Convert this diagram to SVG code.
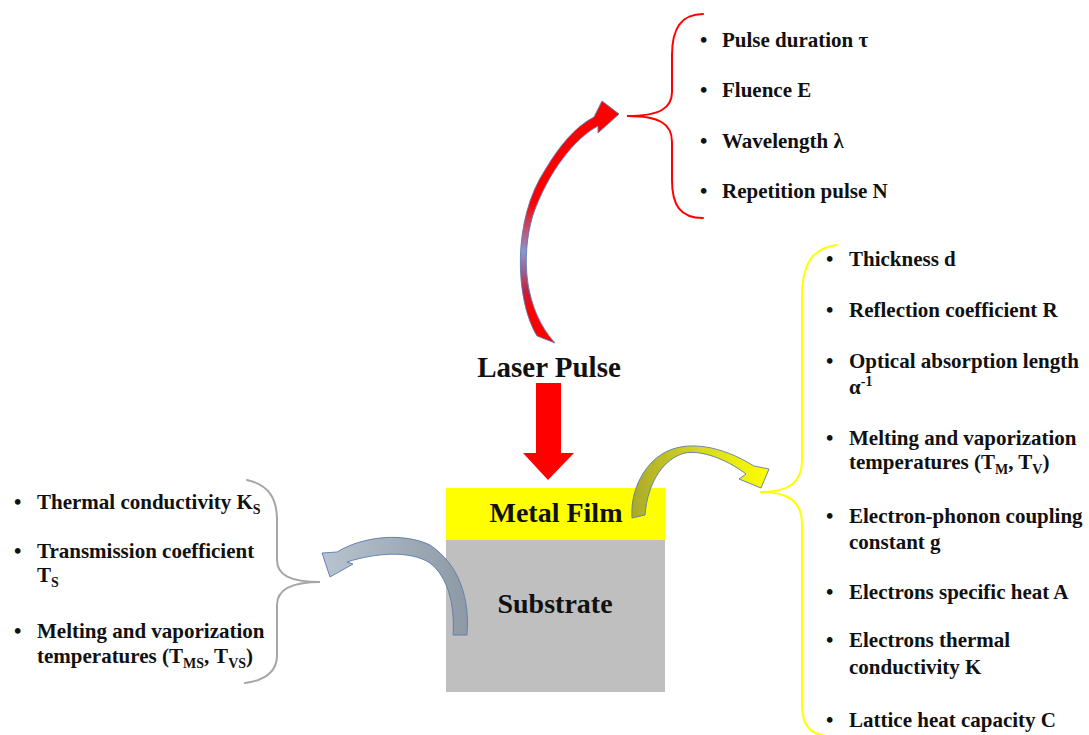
<svg xmlns="http://www.w3.org/2000/svg" width="1089" height="735" viewBox="0 0 1089 735">
<defs>
<style>
.t{font-family:"Liberation Serif","Times New Roman",serif;font-weight:bold;font-size:21px;fill:#111}
.big{font-family:"Liberation Serif","Times New Roman",serif;font-weight:bold;font-size:28px;fill:#111;text-anchor:middle}
.sub{font-size:14px}
.brace{fill:none;stroke-width:2;stroke-linecap:round}
.curv{stroke:#5a7cb0;stroke-width:0.9;stroke-linejoin:round}
</style>
<linearGradient id="gRed" gradientUnits="userSpaceOnUse" x1="0" y1="100" x2="0" y2="345">
<stop offset="0" stop-color="#ff0000"/>
<stop offset="0.42" stop-color="#ff0000"/>
<stop offset="0.62" stop-color="#8a96d0"/>
<stop offset="0.78" stop-color="#c02040"/>
<stop offset="0.86" stop-color="#ff0000"/>
<stop offset="1" stop-color="#ff0000"/>
</linearGradient>
<linearGradient id="gYel" gradientUnits="userSpaceOnUse" x1="630" y1="0" x2="770" y2="0">
<stop offset="0" stop-color="#a8a82a"/>
<stop offset="0.5" stop-color="#d8d820"/>
<stop offset="1" stop-color="#ffff00"/>
</linearGradient>
<linearGradient id="gGray" gradientUnits="userSpaceOnUse" x1="470" y1="0" x2="320" y2="0">
<stop offset="0" stop-color="#8c98a4"/>
<stop offset="1" stop-color="#b8c4d0"/>
</linearGradient>
</defs>
<rect width="1089" height="735" fill="#ffffff"/>

<g id="metal-film">
<rect x="446" y="488" width="219" height="52" fill="#ffff00"/>
<text class="big" x="556" y="522">Metal Film</text>
</g>
<g id="substrate">
<rect x="446" y="540" width="219" height="152" fill="#bfbfbf"/>
<text class="big" x="555" y="613">Substrate</text>
</g>
<g id="laser-pulse">
<text class="big" x="549" y="377" style="font-size:29px">Laser Pulse</text>
</g>

<g id="connectors">
<polygon points="536,383 561,383 561,453 574,453 548,480 523,453 536,453" fill="#ff0000"/>
<path class="curv" fill="url(#gRed)" d="M 537 336 C 515 300, 512 220, 545 170 C 560 145, 575 127, 594 117 L 602 101 L 619 114 L 598 133 L 598 126 C 575 138, 548 172, 533 215 C 520 258, 525 310, 555 343 Z"/>
<path class="curv" fill="url(#gYel)" d="M 632 518 C 630 490, 645 460, 670 450 C 690 442, 720 445, 754 466 L 769 469 L 761 488 L 739 479 L 746 474 C 725 458, 700 450, 685 453 C 665 458, 648 480, 645 515 Z"/>
<path class="curv" fill="url(#gGray)" d="M 467 635 C 470 600, 460 565, 430 545 C 405 533, 365 535, 337 552 L 322 553 L 330 577 L 353 564 L 347 562 C 375 553, 410 550, 430 563 C 448 577, 455 605, 453 635 Z"/>
</g>

<g id="laser-params">
<path class="brace" stroke="#ff0000" d="M 703 14 C 680 14, 672 30, 672 55 L 672 92 C 672 108, 660 116, 627 116 C 660 116, 672 124, 672 142 L 672 180 C 672 205, 680 218, 703 218"/>
<text class="t" x="700" y="47">•</text><text class="t" x="722" y="47">Pulse duration τ</text>
<text class="t" x="700" y="97">•</text><text class="t" x="722" y="97">Fluence E</text>
<text class="t" x="700" y="148">•</text><text class="t" x="722" y="148">Wavelength λ</text>
<text class="t" x="700" y="198">•</text><text class="t" x="722" y="198">Repetition pulse N</text>
</g>

<g id="film-params">
<path class="brace" stroke="#ffff00" d="M 837 245 C 812 248, 802 265, 802 295 L 802 460 C 802 482, 790 492, 760 492 C 790 492, 802 502, 802 525 L 802 705 C 802 725, 810 733, 822 735"/>
<text class="t" x="826" y="266">•</text><text class="t" x="849" y="266">Thickness d</text>
<text class="t" x="826" y="317">•</text><text class="t" x="849" y="317">Reflection coefficient R</text>
<text class="t" x="826" y="368">•</text><text class="t" x="849" y="368">Optical absorption length</text>
<text class="t" x="849" y="394">α<tspan class="sub" dy="-8">-1</tspan></text>
<text class="t" x="826" y="445">•</text><text class="t" x="849" y="445">Melting and vaporization</text>
<text class="t" x="849" y="469">temperatures (T<tspan class="sub" dy="5">M</tspan><tspan dy="-5">, T</tspan><tspan class="sub" dy="5">V</tspan><tspan dy="-5">)</tspan></text>
<text class="t" x="826" y="523">•</text><text class="t" x="849" y="523">Electron-phonon coupling</text>
<text class="t" x="849" y="549">constant g</text>
<text class="t" x="826" y="599">•</text><text class="t" x="849" y="599">Electrons specific heat A</text>
<text class="t" x="826" y="647">•</text><text class="t" x="849" y="647">Electrons thermal</text>
<text class="t" x="849" y="674">conductivity K</text>
<text class="t" x="826" y="727">•</text><text class="t" x="849" y="727">Lattice heat capacity C</text>
</g>

<g id="substrate-params">
<path class="brace" stroke="#a6a6a6" d="M 247 480 C 270 485, 277 500, 277 520 L 277 560 C 277 575, 290 582, 320 582 C 290 582, 277 590, 277 605 L 277 655 C 277 670, 268 680, 245 683"/>
<text class="t" x="14" y="509">•</text><text class="t" x="37" y="509">Thermal conductivity K<tspan class="sub" dy="5">S</tspan></text>
<text class="t" x="14" y="558">•</text><text class="t" x="37" y="558">Transmission coefficient</text>
<text class="t" x="37" y="582">T<tspan class="sub" dy="5">S</tspan></text>
<text class="t" x="14" y="638">•</text><text class="t" x="37" y="638">Melting and vaporization</text>
<text class="t" x="37" y="663">temperatures (T<tspan class="sub" dy="5">MS</tspan><tspan dy="-5">, T</tspan><tspan class="sub" dy="5">VS</tspan><tspan dy="-5">)</tspan></text>
</g>
</svg>
